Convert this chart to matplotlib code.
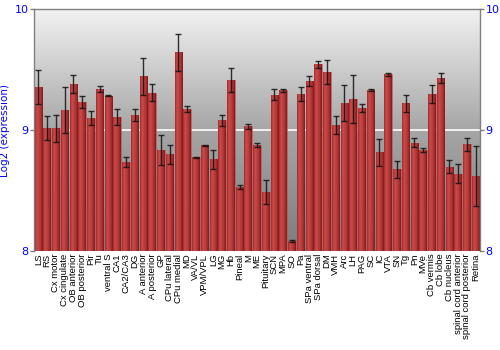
import numpy as np
import matplotlib
matplotlib.use("Agg")
import matplotlib.pyplot as plt
from matplotlib.colors import LinearSegmentedColormap

regions = ["LS", "RS", "Cx motor", "Cx cingulate", "OB anterior", "OB posterior",
           "Pir", "Tu", "ventral S", "CA1", "CA2/CA3", "DG", "A anterior",
           "A posterior", "GP", "CPu lateral", "CPu medial", "MD", "VA/VL",
           "VPM/VPL", "LG", "MG", "Hb", "Pineal", "M", "ME", "Pituitary", "SCN",
           "MPA", "SO", "Pa", "SPa ventral", "SPa dorsal", "DM", "VMH", "Arc",
           "LH", "PAG", "SC", "IC", "VTA", "SN", "Tg", "Pn", "MVe", "Cb vermis",
           "Cb lobe", "Cb nucleus", "spinal cord anterior",
           "spinal cord posterior", "Retina"]

expr = [9.353, 9.014, 9.014, 9.165, 9.383, 9.234, 9.100, 9.341, 9.283, 9.110,
        8.738, 9.121, 9.444, 9.308, 8.832, 8.800, 9.642, 9.174, 8.774, 8.873,
        8.758, 9.080, 9.416, 8.531, 9.030, 8.876, 8.488, 9.292, 9.328, 8.080,
        9.300, 9.408, 9.545, 9.479, 9.044, 9.223, 9.256, 9.182, 9.331, 8.816,
        9.460, 8.675, 9.223, 8.895, 8.835, 9.298, 9.430, 8.697, 8.639, 8.884,
        8.622]

err = [0.14, 0.10, 0.11, 0.19, 0.075, 0.048, 0.055, 0.024, 0.004, 0.065,
       0.04, 0.05, 0.155, 0.069, 0.125, 0.077, 0.155, 0.027, 0.005, 0.004,
       0.077, 0.045, 0.10, 0.018, 0.02, 0.02, 0.096, 0.045, 0.015, 0.01,
       0.058, 0.04, 0.029, 0.098, 0.076, 0.15, 0.20, 0.035, 0.011, 0.113,
       0.012, 0.069, 0.07, 0.038, 0.015, 0.073, 0.04, 0.051, 0.08, 0.054,
       0.25]

fig = plt.figure(figsize=(5, 3.5), dpi=100)
ax = fig.add_axes([0.068, 0.283, 0.892, 0.691])

x = np.arange(len(regions))

# background gradient
bg = LinearSegmentedColormap.from_list("bg", ["#7c7c7c", "#a6a6a6", "#f2f2f2"])
ax.imshow(np.linspace(0, 1, 256).reshape(-1, 1), cmap=bg, aspect="auto",
          extent=(-0.5, len(regions) - 0.5, 8, 10), origin="lower", zorder=0)
ax.axhline(9, color="white", lw=1.2, zorder=1)

bars = ax.bar(x, np.array(expr) - 8, bottom=8, width=0.86, color="#b03030",
              edgecolor="#c86a6a", linewidth=0.4, zorder=2)

# horizontal shading inside bars
barmap = LinearSegmentedColormap.from_list(
    "bar", ["#a02a2a", "#cc4a4a", "#c04040", "#a83232", "#7e1a1a"])
grad = np.linspace(0, 1, 64).reshape(1, -1)
for b in bars:
    x0, y0 = b.get_x(), b.get_y()
    im = ax.imshow(grad, cmap=barmap, aspect="auto",
                   extent=(x0, x0 + b.get_width(), y0, y0 + b.get_height()),
                   zorder=2.5)
    im.set_clip_path(b)

ax.errorbar(x, expr, yerr=err, fmt="none", ecolor="#111111", elinewidth=1,
            capsize=2, capthick=1, alpha=0.85, zorder=3)

ax.set_xlim(-0.5, len(regions) - 0.5)
ax.set_ylim(8, 10)

ax.set_yticks([8, 9, 10])
ax.set_yticklabels(["8", "9", "10"])
ax.tick_params(axis="y", colors="#808080", labelcolor="blue", labelsize=8,
               length=3, width=1, pad=1, right=True, labelright=True)
ax.set_ylabel("Log2 (expression)", color="blue", fontsize=7.5, labelpad=3)

ax.set_xticks(x)
ax.set_xticklabels(regions, rotation=90, fontsize=6.8,
                   fontfamily="Liberation Sans")
ax.tick_params(axis="x", length=0, pad=2)

for s in ["left", "right", "top"]:
    ax.spines[s].set_color("#808080")
    ax.spines[s].set_linewidth(1)
ax.spines["bottom"].set_visible(False)

fig.savefig("out.png", dpi=100)
